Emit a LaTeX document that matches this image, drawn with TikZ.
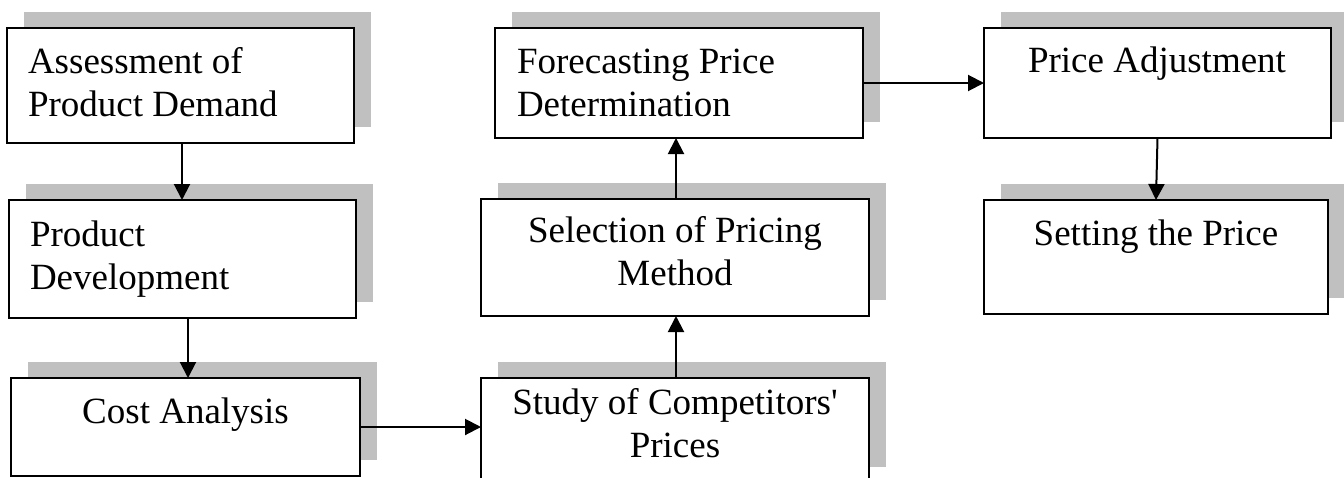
\documentclass[tikz,border=0pt]{standalone}
\usepackage{fontspec}
\setmainfont{Liberation Serif}[Ligatures=TeXOff]
\usetikzlibrary{arrows.meta,shadows,calc}
\definecolor{shadowgray}{RGB}{192,192,192}
\tikzset{
  box/.style={draw=black, line width=2pt, fill=white, inner sep=0pt, outer sep=0pt, anchor=north west,
    drop shadow={shadow xshift=17pt, shadow yshift=16pt, fill=shadowgray, opacity=1}},
  lbl/.style={inner sep=0pt, outer sep=0pt, font=\fontsize{37pt}{43pt}\selectfont},
  arr/.style={line width=2pt, -{Triangle[width=16pt,length=16pt]}}
}
\begin{document}
\begin{tikzpicture}[x=1pt,y=-1pt]
\useasboundingbox (0,0) rectangle (1344,477);
\fill[white] (0,0) rectangle (1344,477);
\clip (0,0) rectangle (1344,477);
% boxes
\node[box, minimum width=347pt, minimum height=115pt] (b1) at (7,28) {};
\node[box, minimum width=347pt, minimum height=118pt] (b2) at (9,200) {};
\node[box, minimum width=349pt, minimum height=98pt] (b3) at (11,378) {};
\node[box, minimum width=388pt, minimum height=105pt] (b4) at (481,378) {};
\node[box, minimum width=388pt, minimum height=117pt] (b5) at (481,199) {};
\node[box, minimum width=368pt, minimum height=110pt] (b6) at (495,28) {};
\node[box, minimum width=347pt, minimum height=110pt] (b7) at (984,28) {};
\node[box, minimum width=344pt, minimum height=114pt] (b8) at (984,200) {};
% labels (base anchor = baseline of last line)
\node[lbl, anchor=base west, align=left] (t1) at (28,116) {Assessment of\\Product Demand};
\node[lbl, anchor=base west, align=left] (t2) at (30,289) {Product\\Development};
\node[lbl, anchor=base] (t3) at (185.5,423) {Cost Analysis};
\node[lbl, anchor=base, align=center] (t4) at (675,457) {Study of Competitors'\\Prices};
\node[lbl, anchor=base, align=center] (t5) at (675,285) {Selection of Pricing\\Method};
\node[lbl, anchor=base west, align=left] (t6) at (517,116) {Forecasting Price\\Determination};
\node[lbl, anchor=base] (t7) at (1157,72) {Price Adjustment};
\node[lbl, anchor=base] (t8) at (1156,245) {Setting the Price};
% connectors
\draw[arr] (b1.south -| 182,0) -- (b2.north -| 182,0);
\draw[arr] (b2.south -| 188,0) -- (b3.north -| 188,0);
\draw[arr] (b3.east) -- (b4.west |- b3.east);
\draw[arr] (b4.north -| 676,0) -- (b5.south -| 676,0);
\draw[arr] (b5.north -| 676,0) -- (b6.south -| 676,0);
\draw[arr] (b6.east) -- (b7.west |- b6.east);
\draw[arr] (b7.south) -- (b8.north);
\end{tikzpicture}
\end{document}
